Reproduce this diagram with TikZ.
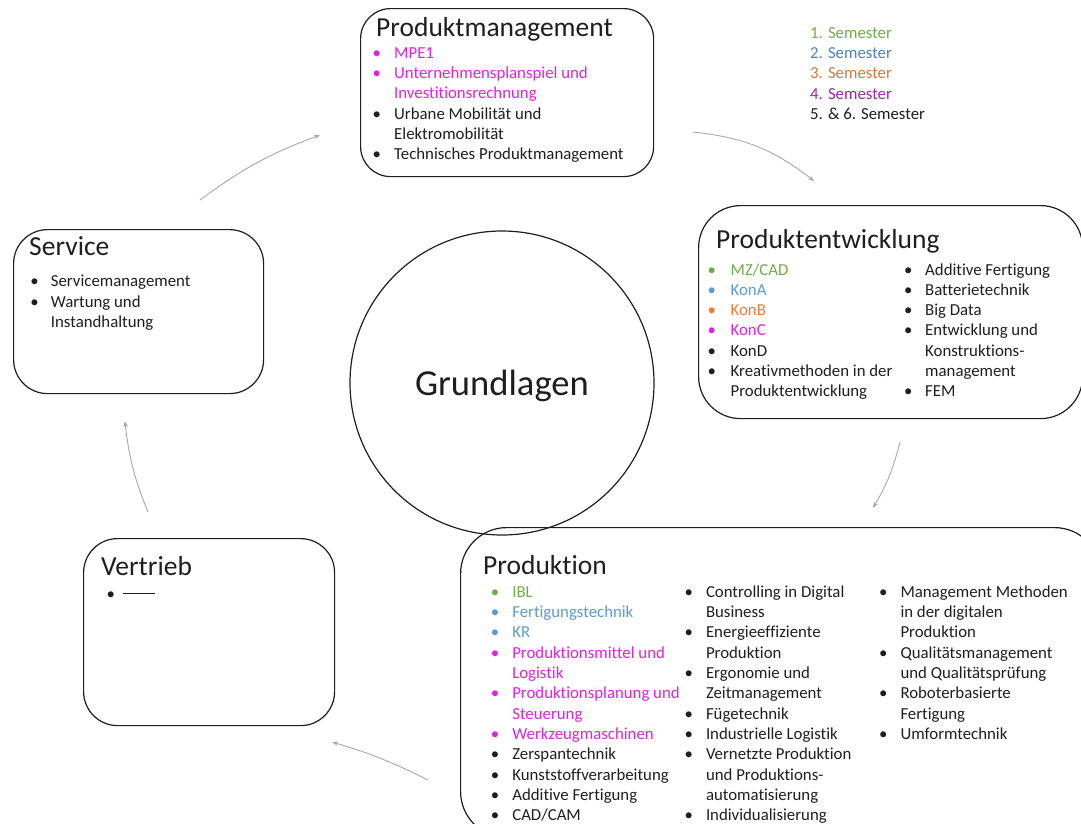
\documentclass[tikz,border=0pt]{standalone}
\usepackage{fontspec}
\setmainfont{Carlito}[RawFeature={-liga;-clig;-dlig;-calt}]
\usetikzlibrary{arrows.meta}

\definecolor{ink}{HTML}{1E1E1E}
\definecolor{semA}{HTML}{70AD47}
\definecolor{semB}{HTML}{5B9BD5}
\definecolor{semBdark}{HTML}{4F81BD}
\definecolor{semC}{HTML}{ED7D31}
\definecolor{semCdark}{HTML}{D2793A}
\definecolor{semD}{HTML}{DE22DE}
\definecolor{semDdark}{HTML}{9A27A8}
\definecolor{arrowgray}{HTML}{A8A8A8}

% one bulleted row and one continuation row of a list column
\newcommand\bitem[2]{\textcolor{#1}{\textbullet}&\textcolor{#1}{#2}\\}
\newcommand\bcont[2]{&\textcolor{#1}{#2}\\}
\newcommand\listcolumn[2]{\begin{tabular}[t]{@{}p{#1}@{}l@{}}#2\end{tabular}}

\tikzset{
  panel/.style={draw=ink, line width=1.2pt, rounded corners=#1, anchor=north west, inner sep=0pt},
  heading/.style={anchor=base west, inner sep=0pt, text=ink, font=\fontsize{27.5}{33}\selectfont},
  listcol/.style={anchor=base west, inner sep=0pt, text=ink, font=\fontsize{16.8}{20.3}\selectfont},
  cycle/.style={draw=arrowgray, line width=0.9pt, -{Stealth[length=6pt,width=4.5pt]}},
}

\begin{document}
\begin{tikzpicture}[x=1pt, y=-1pt]
\useasboundingbox (0,0) rectangle (1081,823);
\clip (0,0) rectangle (1081,823);

% central circle
\node[draw=ink, line width=1.2pt, circle, minimum size=304pt, inner sep=0pt] (grundlagen) at (502,383) {};
\node[anchor=base, inner sep=0pt, text=ink, font=\fontsize{36.6}{44}\selectfont] (grundlagentitel) at (502,395) {Grundlagen};

% panels
\node[panel=30pt, minimum width=293pt, minimum height=168pt] (pm) at (360,8) {};
\node[panel=42pt, minimum width=384pt, minimum height=213pt] (pe) at (698,205) {};
\node[panel=34pt, minimum width=250pt, minimum height=164pt] (sv) at (13,229) {};
\node[panel=34pt, minimum width=251pt, minimum height=187pt] (vt) at (83,538) {};
\node[panel=46pt, minimum width=640pt, minimum height=310pt] (pr) at (460,527) {};

% Produktmanagement
\node[heading] (pmtitel) at (376,36) {Produktmanagement};
\node[listcol] (pmliste) at (372.5,58.3) {\listcolumn{21.5pt}{%
  \bitem{semD}{MPE1}
  \bitem{semD}{Unternehmensplanspiel und}
  \bcont{semD}{Investitionsrechnung}
  \bitem{ink}{Urbane Mobilität und}
  \bcont{ink}{Elektromobilität}
  \bitem{ink}{Technisches Produktmanagement}}};

% Produktentwicklung
\node[heading] (petitel) at (716,248) {Produktentwicklung};
\node[listcol] (peliste) at (707.5,275) {\listcolumn{23pt}{%
  \bitem{semA}{MZ/CAD}
  \bitem{semB}{KonA}
  \bitem{semC}{KonB}
  \bitem{semD}{KonC}
  \bitem{ink}{KonD}
  \bitem{ink}{Kreativmethoden in der}
  \bcont{ink}{Produktentwicklung}}};
\node[listcol] (pelisteb) at (904,275) {\listcolumn{21pt}{%
  \bitem{ink}{Additive Fertigung}
  \bitem{ink}{Batterietechnik}
  \bitem{ink}{Big Data}
  \bitem{ink}{Entwicklung und}
  \bcont{ink}{Konstruktions-}
  \bcont{ink}{management}
  \bitem{ink}{FEM}}};

% Service
\node[heading] (svtitel) at (29,255) {Service};
\node[listcol] (svliste) at (30.1,286.7) {\listcolumn{20.6pt}{%
  \bitem{ink}{Servicemanagement}
  \bitem{ink}{Wartung und}
  \bcont{ink}{Instandhaltung}}};

% Vertrieb
\node[heading] (vttitel) at (101,575) {Vertrieb};
\node[listcol] (vtliste) at (106.5,599) {\listcolumn{16.5pt}{%
  \bitem{ink}{\rule[4.8pt]{32pt}{0.9pt}}}};

% Produktion
\node[heading] (prtitel) at (483,574) {Produktion};
\node[listcol] (prlistea) at (490.6,597.3) {\listcolumn{21.5pt}{%
  \bitem{semA}{IBL}
  \bitem{semB}{Fertigungstechnik}
  \bitem{semB}{KR}
  \bitem{semD}{Produktionsmittel und}
  \bcont{semD}{Logistik}
  \bitem{semD}{Produktionsplanung und}
  \bcont{semD}{Steuerung}
  \bitem{semD}{Werkzeugmaschinen}
  \bitem{ink}{Zerspantechnik}
  \bitem{ink}{Kunststoffverarbeitung}
  \bitem{ink}{Additive Fertigung}
  \bitem{ink}{CAD/CAM}}};
\node[listcol] (prlisteb) at (684.3,597.3) {\listcolumn{21.5pt}{%
  \bitem{ink}{Controlling in Digital}
  \bcont{ink}{Business}
  \bitem{ink}{Energieeffiziente}
  \bcont{ink}{Produktion}
  \bitem{ink}{Ergonomie und}
  \bcont{ink}{Zeitmanagement}
  \bitem{ink}{Fügetechnik}
  \bitem{ink}{Industrielle Logistik}
  \bitem{ink}{Vernetzte Produktion}
  \bcont{ink}{und Produktions-}
  \bcont{ink}{automatisierung}
  \bitem{ink}{Individualisierung}}};
\node[listcol] (prlistec) at (878.8,597.3) {\listcolumn{21.5pt}{%
  \bitem{ink}{Management Methoden}
  \bcont{ink}{in der digitalen}
  \bcont{ink}{Produktion}
  \bitem{ink}{Qualitätsmanagement}
  \bcont{ink}{und Qualitätsprüfung}
  \bitem{ink}{Roboterbasierte}
  \bcont{ink}{Fertigung}
  \bitem{ink}{Umformtechnik}}};

% legend of semesters
\node[listcol] (legende) at (810,38.3) {\begin{tabular}[t]{@{}l@{}}
  \textcolor{semA}{1. Semester}\\
  \textcolor{semBdark}{2. Semester}\\
  \textcolor{semCdark}{3. Semester}\\
  \textcolor{semDdark}{4. Semester}\\
  \textcolor{ink}{5. \& 6. Semester}
\end{tabular}};

% cycle arrows between the panels
\coordinate (svout) at (200,200);
\coordinate (pmin) at (320,135);
\coordinate (pmout) at (693,132);
\coordinate (pein) at (814,181);
\coordinate (peout) at (900,442);
\coordinate (prin) at (873,508);
\coordinate (prout) at (428,780);
\coordinate (vtin) at (332,742);
\coordinate (vtout) at (148,512);
\coordinate (svin) at (125,421);

\draw[cycle] (svout) to[bend left=8] (pmin);
\draw[cycle] (pmout) to[bend left=16] (pein);
\draw[cycle] (peout) to[bend left=8] (prin);
\draw[cycle] (prout) to[bend right=5] (vtin);
\draw[cycle] (vtout) to[bend left=8] (svin);
\end{tikzpicture}
\end{document}
